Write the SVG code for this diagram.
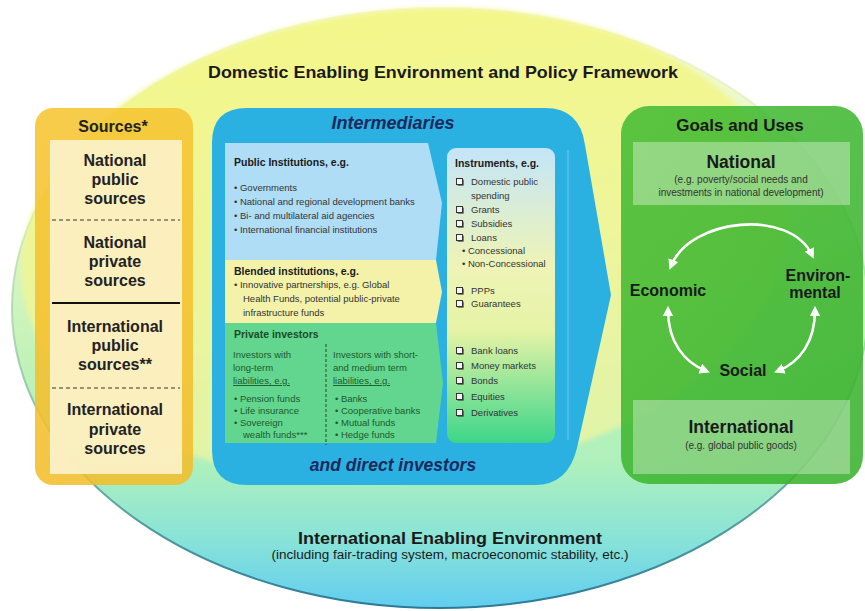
<svg xmlns="http://www.w3.org/2000/svg" xmlns:xlink="http://www.w3.org/1999/xlink" width="865" height="611" viewBox="0 0 865 611">
<defs>
<linearGradient id="gEll" x1="0" y1="0" x2="0" y2="1">
<stop offset="0" stop-color="#f6fad2"/>
<stop offset="0.35" stop-color="#e2f7c4"/>
<stop offset="0.6" stop-color="#c0f2b8"/>
<stop offset="0.76" stop-color="#aef0bc"/>
<stop offset="0.88" stop-color="#8ae4d6"/>
<stop offset="1" stop-color="#62cdf0"/>
</linearGradient>
<linearGradient id="gEllS" x1="0" y1="0" x2="0" y2="1">
<stop offset="0" stop-color="#e8f0b0" stop-opacity="0.3"/>
<stop offset="0.55" stop-color="#90c8a0" stop-opacity="0.7"/>
<stop offset="1" stop-color="#2a7a96"/>
</linearGradient>
<linearGradient id="gDom" x1="0" y1="0" x2="0" y2="1">
<stop offset="0" stop-color="#f3f682"/>
<stop offset="0.6" stop-color="#eff59a"/>
<stop offset="1" stop-color="#e4f4a8"/>
</linearGradient>
<filter id="soft" x="-5%" y="-5%" width="110%" height="110%">
<feGaussianBlur stdDeviation="2.5"/>
</filter>
<linearGradient id="gSrc" x1="0" y1="0" x2="0" y2="1">
<stop offset="0" stop-color="#f6c532"/>
<stop offset="1" stop-color="#f2be2c"/>
</linearGradient>
<linearGradient id="gInst" x1="0" y1="0" x2="0" y2="1">
<stop offset="0" stop-color="#c4e5f8"/>
<stop offset="0.4" stop-color="#eef4b6"/>
<stop offset="0.62" stop-color="#e6f3a6"/>
<stop offset="1" stop-color="#3cd68a"/>
</linearGradient>
<linearGradient id="gGoal" x1="0" y1="0" x2="1" y2="1">
<stop offset="0" stop-color="#42bb32"/>
<stop offset="1" stop-color="#36b02a"/>
</linearGradient>
<marker id="ah" viewBox="0 0 10 10" refX="6" refY="5" markerWidth="4" markerHeight="4" orient="auto-start-reverse" markerUnits="strokeWidth">
<path d="M0,0 L10,5 L0,10 Z" fill="#ffffff"/>
</marker>
<symbol id="cb" viewBox="0 0 8 8" overflow="visible">
<rect x="1.6" y="1.6" width="6" height="6" fill="#333"/>
<rect x="0.5" y="0.5" width="6" height="6" fill="#f4f4f4" stroke="#333" stroke-width="1"/>
</symbol>
<style>
text{font-family:"Liberation Sans",Arial,sans-serif;fill:#1a1a1a}
.b{font-weight:bold}
.c{text-anchor:middle}
.src{font-size:16px;font-weight:bold;text-anchor:middle;fill:#222}
.hd{font-size:10.5px;font-weight:bold;fill:#1a1a1a}
.it{font-size:9.5px;fill:#333}
.pv{font-size:9.5px;fill:#1c5a30}
.pvh{font-size:10.5px;font-weight:bold;fill:#1c4a2a}
.ins{font-size:9.5px;fill:#333}
.ttl{font-weight:bold;font-style:italic;text-anchor:middle;fill:#1b2a5c}
.gl{font-weight:bold;text-anchor:middle;fill:#1a1a1a}
.sm{font-size:10px;text-anchor:middle;fill:#333}
.arr{fill:none;stroke:#ffffff;stroke-width:2.6;marker-start:url(#ah);marker-end:url(#ah)}
</style>
</defs>

<g id="background">
<ellipse cx="440" cy="308" rx="428" ry="300" fill="url(#gEll)" stroke="url(#gEllS)" stroke-width="2"/>
<ellipse cx="405" cy="245" rx="385" ry="235" transform="rotate(-6 405 245)" fill="url(#gDom)" fill-opacity="0.9" filter="url(#soft)"/>
<text class="b c" x="443" y="78" font-size="17" textLength="470" lengthAdjust="spacingAndGlyphs">Domestic Enabling Environment and Policy Framework</text>
<text class="b c" x="450" y="544" font-size="17" textLength="304" lengthAdjust="spacingAndGlyphs">International Enabling Environment</text>
<text class="c" x="450" y="559" font-size="12" fill="#333" textLength="357" lengthAdjust="spacingAndGlyphs">(including fair-trading system, macroeconomic stability, etc.)</text>
</g>

<g id="sources">
<rect x="35" y="108" width="158" height="377" rx="18" fill="url(#gSrc)" fill-opacity="0.88"/>
<text class="src" x="113" y="132" font-size="16.5">Sources*</text>
<rect x="50" y="140" width="132" height="334" fill="#fcf3cc" fill-opacity="0.9"/>
<line x1="52" y1="220" x2="180" y2="220" stroke="#333" stroke-width="1" stroke-dasharray="4,3"/>
<line x1="52" y1="303" x2="180" y2="303" stroke="#111" stroke-width="2"/>
<line x1="52" y1="388" x2="180" y2="388" stroke="#333" stroke-width="1" stroke-dasharray="4,3"/>
<text class="src" x="115" y="166">National</text>
<text class="src" x="115" y="185">public</text>
<text class="src" x="115" y="204">sources</text>
<text class="src" x="115" y="248">National</text>
<text class="src" x="115" y="267">private</text>
<text class="src" x="115" y="286">sources</text>
<text class="src" x="115" y="332">International</text>
<text class="src" x="115" y="351">public</text>
<text class="src" x="115" y="370">sources**</text>
<text class="src" x="115" y="415">International</text>
<text class="src" x="115" y="435">private</text>
<text class="src" x="115" y="454">sources</text>
</g>

<g id="intermediaries">
<path d="M247,108 H545 Q580,108 585,145 L611,295 L577,448 Q568,485 535,485 H247 Q212,485 212,450 V143 Q212,108 247,108 Z" fill="#2bb0e2"/>
<line x1="568" y1="150" x2="568" y2="440" stroke="#8fd6f2" stroke-width="1" opacity="0.7"/>
<text class="ttl" x="393" y="129" font-size="18">Intermediaries</text>
<text class="ttl" x="393" y="471" font-size="17.5">and direct investors</text>
</g>

<g id="public-institutions">
<path d="M225,143 H428 L442,203 L436,260 H225 Z" fill="#b0ddf6"/>
<text class="hd" x="234" y="166">Public Institutions,  e.g.</text>
<text class="it" x="234" y="191">•  Governments</text>
<text class="it" x="234" y="205">•  National and regional development banks</text>
<text class="it" x="234" y="219">•  Bi- and multilateral aid agencies</text>
<text class="it" x="234" y="233">•  International financial institutions</text>
</g>

<g id="blended-institutions">
<path d="M225,260 H436 L442,292 L436,323 H225 Z" fill="#f4f2a8"/>
<text class="hd" x="234" y="275">Blended institutions,  e.g.</text>
<text class="it" x="234" y="288">•  Innovative partnerships, e.g. Global</text>
<text class="it" x="243" y="302">Health Funds, potential public-private</text>
<text class="it" x="243" y="316">infrastructure funds</text>
</g>

<g id="private-investors">
<path d="M225,323 H436 L443,383 L436,443 H225 Z" fill="#62d68e"/>
<text class="pvh" x="234" y="338">Private investors</text>
<line x1="326" y1="344" x2="326" y2="445" stroke="#1f4a2a" stroke-width="1" stroke-dasharray="3,2"/>
<text class="pv" x="233" y="358">Investors with</text>
<text class="pv" x="233" y="371">long-term</text>
<text class="pv" x="233" y="384" text-decoration="underline">liabilities, e.g.</text>
<text class="pv" x="234" y="402">•  Pension funds</text>
<text class="pv" x="234" y="414">•  Life insurance</text>
<text class="pv" x="234" y="426">•  Sovereign</text>
<text class="pv" x="243" y="438">wealth funds***</text>
<text class="pv" x="333" y="358">Investors with short-</text>
<text class="pv" x="333" y="371">and medium term</text>
<text class="pv" x="333" y="384" text-decoration="underline">liabilities, e.g.</text>
<text class="pv" x="335" y="402">•  Banks</text>
<text class="pv" x="335" y="414">•  Cooperative banks</text>
<text class="pv" x="335" y="426">•  Mutual funds</text>
<text class="pv" x="335" y="438">•  Hedge funds</text>
</g>

<g id="instruments">
<rect x="447" y="148" width="108" height="295" rx="9" fill="url(#gInst)"/>
<text class="hd" x="455" y="167">Instruments,  e.g.</text>
<use xlink:href="#cb" href="#cb" x="456" y="178" width="8" height="8"/>
<text class="ins" x="471" y="185">Domestic public</text>
<text class="ins" x="471" y="199">spending</text>
<use xlink:href="#cb" href="#cb" x="456" y="206" width="8" height="8"/>
<text class="ins" x="471" y="213">Grants</text>
<use xlink:href="#cb" href="#cb" x="456" y="220" width="8" height="8"/>
<text class="ins" x="471" y="227">Subsidies</text>
<use xlink:href="#cb" href="#cb" x="456" y="234" width="8" height="8"/>
<text class="ins" x="471" y="241">Loans</text>
<text class="ins" x="462" y="254" font-size="8.5">•  Concessional</text>
<text class="ins" x="462" y="267" font-size="8.5">•  Non-Concessional</text>
<use xlink:href="#cb" href="#cb" x="456" y="287" width="8" height="8"/>
<text class="ins" x="471" y="294">PPPs</text>
<use xlink:href="#cb" href="#cb" x="456" y="300" width="8" height="8"/>
<text class="ins" x="471" y="307">Guarantees</text>
<use xlink:href="#cb" href="#cb" x="456" y="347" width="8" height="8"/>
<text class="ins" x="471" y="354">Bank loans</text>
<use xlink:href="#cb" href="#cb" x="456" y="362" width="8" height="8"/>
<text class="ins" x="471" y="369">Money markets</text>
<use xlink:href="#cb" href="#cb" x="456" y="377" width="8" height="8"/>
<text class="ins" x="471" y="384">Bonds</text>
<use xlink:href="#cb" href="#cb" x="456" y="393" width="8" height="8"/>
<text class="ins" x="471" y="400">Equities</text>
<use xlink:href="#cb" href="#cb" x="456" y="409" width="8" height="8"/>
<text class="ins" x="471" y="416">Derivatives</text>
</g>

<g id="goals">
<rect x="621" y="106" width="242" height="378" rx="28" fill="url(#gGoal)" fill-opacity="0.86"/>
<text class="gl" x="740" y="131" font-size="17">Goals and Uses</text>
</g>

<g id="national">
<rect x="633" y="142" width="217" height="63" fill="#ffffff" fill-opacity="0.35"/>
<text class="gl" x="741" y="168" font-size="17.5">National</text>
<text class="sm" x="741" y="183">(e.g. poverty/social needs and</text>
<text class="sm" x="741" y="196">investments in national development)</text>
</g>

<g id="international">
<rect x="633" y="400" width="217" height="74" fill="#ffffff" fill-opacity="0.35"/>
<text class="gl" x="741" y="433" font-size="17.5">International</text>
<text class="sm" x="741" y="449">(e.g. global public goods)</text>
</g>

<g id="economic"><text class="gl" x="668" y="296" font-size="16">Economic</text></g>
<g id="environmental">
<text class="gl" x="818" y="281" font-size="16">Environ-</text>
<text class="gl" x="815" y="298" font-size="16">mental</text>
</g>
<g id="social"><text class="gl" x="743" y="376" font-size="16">Social</text></g>

<g id="connectors">
<path class="arr" d="M671,266 C690,218 790,208 812,255"/>
<path class="arr" d="M668,310 C668,342 684,362 706,371"/>
<path class="arr" d="M815,310 C815,342 800,362 778,371"/>
</g>
</svg>
